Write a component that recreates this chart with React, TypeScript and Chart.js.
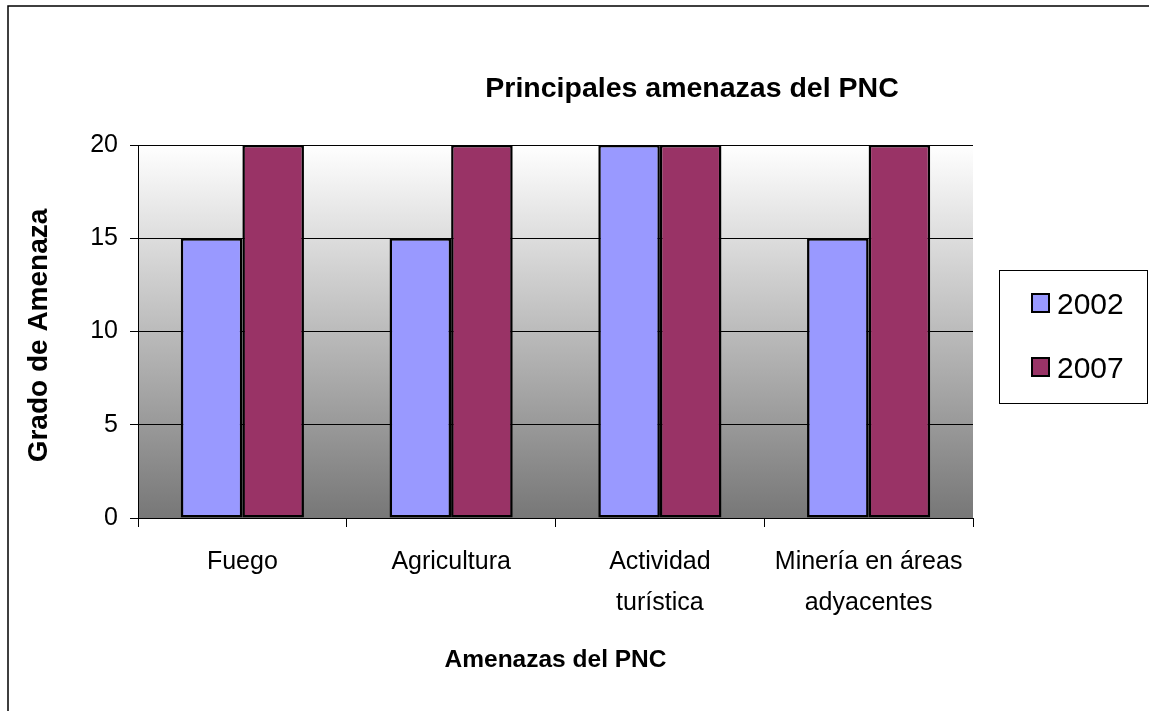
import React, { useEffect, useRef } from "react";
import { Chart, registerables } from "chart.js";

Chart.register(...registerables);

const categories: (string | string[])[] = [
  "Fuego",
  "Agricultura",
  ["Actividad", "turística"],
  ["Minería en áreas", "adyacentes"],
];
const seriesNames = ["2002", "2007"];
const values2002 = [15, 15, 20, 15];
const values2007 = [20, 20, 20, 20];
const yTicks = [0, 5, 10, 15, 20];
const chartTitle = "Principales amenazas del PNC";
const yTitle = "Grado de Amenaza";
const xTitle = "Amenazas del PNC";
const colors = ["#9999FF", "#993366"];

const FONT = "'Liberation Sans', Arial, sans-serif";

export default function App() {
  const ref = useRef<HTMLCanvasElement | null>(null);

  useEffect(() => {
    if (!ref.current) return;
    const decor = {
      id: "decor",
      beforeDraw(chart: any) {
        const { ctx, chartArea } = chart;
        const g = ctx.createLinearGradient(0, chartArea.top, 0, chartArea.bottom);
        g.addColorStop(0, "#ffffff");
        g.addColorStop(1, "#777777");
        ctx.save();
        ctx.fillStyle = g;
        ctx.fillRect(chartArea.left, chartArea.top, chartArea.right - chartArea.left, chartArea.bottom - chartArea.top);
        ctx.restore();
      },
      afterDraw(chart: any) {
        const { ctx, chartArea } = chart;
        ctx.save();
        // outer frame
        ctx.strokeStyle = "#000";
        ctx.lineWidth = 1.5;
        ctx.beginPath();
        ctx.moveTo(8, 712);
        ctx.lineTo(8, 6);
        ctx.lineTo(1150, 6);
        ctx.stroke();
        // title
        ctx.fillStyle = "#000";
        ctx.textAlign = "center";
        ctx.textBaseline = "alphabetic";
        ctx.font = `bold 28.5px ${FONT}`;
        ctx.fillText(chartTitle, 692, 97);
        // x title
        ctx.font = `bold 24.5px ${FONT}`;
        ctx.fillText(xTitle, (chartArea.left + chartArea.right) / 2, 667);
        // y title
        ctx.save();
        ctx.translate(47, (chartArea.top + chartArea.bottom) / 2 + 4);
        ctx.rotate(-Math.PI / 2);
        ctx.font = `bold 28px ${FONT}`;
        ctx.fillText(yTitle, 0, 0);
        ctx.restore();
        // legend
        ctx.lineWidth = 1;
        ctx.strokeStyle = "#000";
        ctx.strokeRect(999.5, 270.5, 148, 133);
        const rows = [303, 367];
        ctx.textAlign = "left";
        ctx.font = `30px ${FONT}`;
        seriesNames.forEach((name, i) => {
          const cy = rows[i];
          ctx.fillStyle = colors[i];
          ctx.fillRect(1032, cy - 9, 17, 18);
          ctx.lineWidth = 2;
          ctx.strokeRect(1032, cy - 9, 17, 18);
          ctx.fillStyle = "#000";
          ctx.fillText(name, 1057, cy + 11);
        });
        ctx.restore();
      },
    };

    const chart = new Chart(ref.current, {
      type: "bar",
      data: {
        labels: categories,
        datasets: [
          {
            label: seriesNames[0],
            data: values2002,
            backgroundColor: colors[0],
            borderColor: "#000",
            borderWidth: 2.5,
            borderSkipped: false,
          },
          {
            label: seriesNames[1],
            data: values2007,
            backgroundColor: colors[1],
            borderColor: "#000",
            borderWidth: 2.5,
            borderSkipped: false,
          },
        ],
      },
      options: {
        responsive: false,
        animation: false,
        layout: { padding: { left: 0, top: 145, right: 176, bottom: 0 } },
        datasets: { bar: { categoryPercentage: 0.59, barPercentage: 1.0 } },
        plugins: {
          legend: { display: false },
          title: { display: false },
          tooltip: { enabled: false },
        },
        scales: {
          x: {
            grid: {
              drawOnChartArea: false,
              drawTicks: true,
              tickLength: 9,
              color: "#000",
              offset: true,
            },
            border: { color: "#000", width: 1 },
            ticks: {
              color: "#000",
              font: { family: FONT, size: 25, lineHeight: 1.62 },
              padding: 15,
              maxRotation: 0,
              autoSkip: false,
            },
            afterFit: (scale: any) => {
              scale.height = 711 - 518;
            },
          },
          y: {
            min: 0,
            max: 20,
            afterBuildTicks: (scale: any) => {
              scale.ticks = yTicks.map((v) => ({ value: v }));
            },
            grid: { color: "#000", lineWidth: 1, tickLength: 8, drawTicks: true },
            border: { color: "#000", width: 1 },
            ticks: {
              color: "#000",
              font: { family: FONT, size: 25 },
              padding: 12,
            },
            afterFit: (scale: any) => {
              scale.width = 138;
            },
          },
        },
      },
      plugins: [decor],
    } as any);
    return () => chart.destroy();
  }, []);

  return (
    <div style={{ position: "absolute", left: 0, top: 0, width: 1149, height: 711, background: "#fff" }}>
      <canvas ref={ref} width={1149} height={711} style={{ display: "block" }} />
    </div>
  );
}
